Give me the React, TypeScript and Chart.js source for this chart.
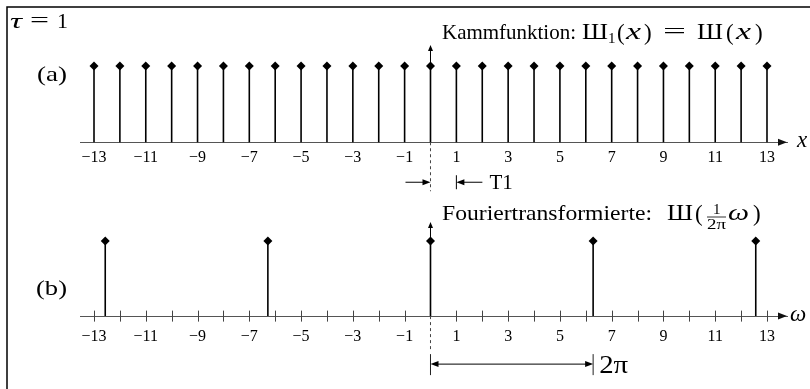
import React, { useEffect, useRef } from 'react';
import { Chart, registerables } from 'chart.js';

Chart.register(...registerables);

// ---- data ----
const tickValues = [-13, -12, -11, -10, -9, -8, -7, -6, -5, -4, -3, -2, -1, 0, 1, 2, 3, 4, 5, 6, 7, 8, 9, 10, 11, 12, 13];
const tickLabels = [-13, -11, -9, -7, -5, -3, -1, 1, 3, 5, 7, 9, 11, 13];
const combPositions = [-13, -12, -11, -10, -9, -8, -7, -6, -5, -4, -3, -2, -1, 0, 1, 2, 3, 4, 5, 6, 7, 8, 9, 10, 11, 12, 13];
const combHeights = [1, 1, 1, 1, 1, 1, 1, 1, 1, 1, 1, 1, 1, 1, 1, 1, 1, 1, 1, 1, 1, 1, 1, 1, 1, 1, 1];
const fourierPositions = [-12.566, -6.283, 0, 6.283, 12.566];
const fourierHeights = [1, 1, 1, 1, 1];
const periodT = 1;
const periodOmega = 6.283;

const SERIF = "'Liberation Serif', 'Times New Roman', serif";
const fnt = (size: number, style = '') => `${style} ${size}px ${SERIF}`.trim();

// draw text at x (left), optionally stretched horizontally to a target width
function put(ctx: CanvasRenderingContext2D, t: string, font: string, x: number, y: number, w?: number) {
  ctx.font = font;
  const m = ctx.measureText(t).width;
  if (!w) {
    ctx.fillText(t, x, y);
    return x + m;
  }
  ctx.save();
  ctx.translate(x, y);
  ctx.scale(w / m, 1);
  ctx.fillText(t, 0, 0);
  ctx.restore();
  return x + w;
}

function arrowHead(ctx: CanvasRenderingContext2D, tx: number, ty: number, dir: 'left' | 'right' | 'up', len: number, half: number) {
  ctx.beginPath();
  if (dir === 'right') {
    ctx.moveTo(tx, ty); ctx.lineTo(tx - len, ty - half); ctx.lineTo(tx - len, ty + half);
  } else if (dir === 'left') {
    ctx.moveTo(tx, ty); ctx.lineTo(tx + len, ty - half); ctx.lineTo(tx + len, ty + half);
  } else {
    ctx.moveTo(tx, ty); ctx.lineTo(tx - half, ty + len); ctx.lineTo(tx + half, ty + len);
  }
  ctx.closePath();
  ctx.fill();
}

function line(ctx: CanvasRenderingContext2D, x1: number, y1: number, x2: number, y2: number) {
  ctx.beginPath(); ctx.moveTo(x1, y1); ctx.lineTo(x2, y2); ctx.stroke();
}

const decor = {
  id: 'decor',
  beforeDraw(chart: any) {
    const ctx: CanvasRenderingContext2D = chart.ctx;
    ctx.save();
    ctx.fillStyle = '#fff';
    ctx.fillRect(0, 0, chart.width, chart.height);
    ctx.strokeStyle = '#000';
    ctx.lineWidth = 1.5;
    ctx.beginPath();
    ctx.moveTo(7, chart.height); ctx.lineTo(7, 7); ctx.lineTo(chart.width, 7);
    ctx.stroke();
    ctx.restore();
  },
  afterDraw(chart: any) {
    const ctx: CanvasRenderingContext2D = chart.ctx;
    const { x: xa, x2: xb, y: ya, y2: yb } = chart.scales;
    const baseA = ya.getPixelForValue(0), baseB = yb.getPixelForValue(0);
    const topA = ya.getPixelForValue(1), topB = yb.getPixelForValue(1);
    const x0 = xa.getPixelForValue(0);
    const x0b = xb.getPixelForValue(0);
    const endA = xa.getPixelForValue(xa.max);
    const endB = xb.getPixelForValue(xb.max);
    ctx.save();
    ctx.fillStyle = '#000';
    ctx.strokeStyle = '#000';

    // vertical axes (solid up, dashed down)
    ctx.lineWidth = 1;
    line(ctx, x0, baseA, x0, topA - 15);
    arrowHead(ctx, x0, topA - 21, 'up', 6, 2.5);
    line(ctx, x0b, baseB, x0b, topB - 13);
    arrowHead(ctx, x0b, topB - 19, 'up', 6, 2.5);
    ctx.strokeStyle = '#444';
    ctx.setLineDash([3, 3]);
    line(ctx, x0, baseA, x0, baseA + 49);
    line(ctx, x0b, baseB, x0b, baseB + 33);
    ctx.setLineDash([]);

    // horizontal axis arrow heads
    ctx.fillStyle = '#111';
    arrowHead(ctx, endA, baseA, 'right', 9, 3.5);
    arrowHead(ctx, endB, baseB, 'right', 9, 3.5);

    // tick marks on panel (b), crossing the axis
    ctx.strokeStyle = '#444';
    ctx.lineWidth = 1;
    for (const t of xb.ticks) {
      if (t.value === 0) continue;
      const px = Math.round(xb.getPixelForValue(t.value)) + 0.5;
      line(ctx, px, baseB - 5.5, px, baseB + 5.5);
    }

    ctx.fillStyle = '#000';
    ctx.textBaseline = 'alphabetic';
    // axis names
    put(ctx, 'x', fnt(23, 'italic'), endA + 10, baseA + 5);
    put(ctx, 'ω', fnt(23, 'italic'), endB + 3, baseB + 5);

    // τ = 1
    put(ctx, 'τ', fnt(22, 'italic'), 10, 28, 12);
    put(ctx, '=', fnt(22), 30, 27, 19);
    put(ctx, '1', fnt(22), 57, 28);

    // (a), (b)
    put(ctx, '(a)', fnt(21), 37, 81, 30);
    put(ctx, '(b)', fnt(21), 36, 295, 31);

    // Title (a)
    const ty = 39;
    put(ctx, 'Kammfunktion:', fnt(21), 442, ty, 134);
    put(ctx, 'Ш', fnt(23), 582, ty, 26);
    put(ctx, '1', fnt(15), 608, ty + 4);
    put(ctx, '(', fnt(23), 617, ty + 1);
    put(ctx, 'x', fnt(23, 'italic'), 626, ty, 15);
    put(ctx, ')', fnt(23), 644, ty + 1);
    put(ctx, '=', fnt(22), 663, ty - 1, 23);
    put(ctx, 'Ш', fnt(23), 697, ty, 26);
    put(ctx, '(', fnt(23), 726, ty + 1);
    put(ctx, 'x', fnt(23, 'italic'), 736, ty, 15);
    put(ctx, ')', fnt(23), 755, ty + 1);

    // Title (b)
    const tb = 220;
    put(ctx, 'Fouriertransformierte:', fnt(21), 442, tb, 210);
    put(ctx, 'Ш', fnt(23), 667, tb, 26);
    put(ctx, '(', fnt(23), 695, tb + 1);
    // fraction 1 / 2π
    const fracL = 707, fracW = 19;
    put(ctx, '1', fnt(15), fracL + 6, 214);
    put(ctx, '2π', fnt(15), fracL, 229, fracW);
    ctx.lineWidth = 0.8;
    ctx.strokeStyle = '#000';
    line(ctx, fracL, 217, fracL + fracW, 217);
    put(ctx, 'ω', fnt(23, 'italic'), 728, tb, 21);
    put(ctx, ')', fnt(23), 753, tb + 1);

    // T1 annotation
    const x1 = xa.getPixelForValue(periodT);
    const yT = baseA + 40;
    ctx.strokeStyle = '#000';
    ctx.lineWidth = 1;
    line(ctx, x0 - 25, yT, x0 - 6, yT);
    arrowHead(ctx, x0, yT, 'right', 8, 3);
    line(ctx, x1, yT - 7, x1, yT + 7);
    line(ctx, x1 + 6, yT, x1 + 26, yT);
    arrowHead(ctx, x1, yT, 'left', 8, 3);
    put(ctx, 'T1', fnt(21), x1 + 33, yT + 7);

    // 2π annotation
    const x2p = xb.getPixelForValue(periodOmega);
    const y2 = baseB + 48;
    ctx.strokeStyle = '#222';
    line(ctx, x0b, y2 - 10, x0b, y2 + 11);
    line(ctx, x2p, y2 - 10, x2p, y2 + 11);
    ctx.strokeStyle = '#000';
    line(ctx, x0b + 6, y2, x2p - 6, y2);
    arrowHead(ctx, x0b, y2, 'left', 8, 3);
    arrowHead(ctx, x2p, y2, 'right', 8, 3);
    put(ctx, '2π', fnt(26), x2p + 6, y2 + 9, 29);

    ctx.restore();
  },
};

const fmt = (v: number) => (v < 0 ? '−' + Math.abs(v) : String(v));

function xAxis(posKey: string, padding: number) {
  return {
    type: 'linear' as const,
    axis: 'x' as const,
    position: { [posKey]: 0 },
    offset: false,
    min: -13.541,
    max: 13.773,
    afterBuildTicks: (s: any) => {
      s.ticks = tickValues.map((v) => ({ value: v }));
    },
    afterFit: (s: any) => {
      s.paddingLeft = 0;
      s.paddingRight = 0;
    },
    ticks: {
      autoSkip: false,
      maxRotation: 0,
      minRotation: 0,
      padding,
      color: '#000',
      font: { family: SERIF, size: 16 },
      callback: (v: any) => (tickLabels.includes(Number(v)) ? fmt(Number(v)) : ''),
    },
    grid: { display: false, drawTicks: false, offset: false },
    border: { display: true, color: '#555', width: 1, dash: [4, 4] },
  };
}

export default function App() {
  const ref = useRef<HTMLCanvasElement>(null);
  useEffect(() => {
    const canvas = ref.current!;
    const combData = combPositions.map((x, i) => ({ x, y: combHeights[i] }));
    const fourierData = fourierPositions.map((x, i) => ({ x, y: fourierHeights[i] }));
    const stem = { backgroundColor: '#000', barThickness: 1.6, grouped: false, borderWidth: 0, inflateAmount: 0 };
    const dot = { pointStyle: 'rectRot', pointRadius: 4.5, pointBackgroundColor: '#000', pointBorderWidth: 0, showLine: false };
    const chart = new Chart(canvas, {
      type: 'bar',
      data: {
        datasets: [
          { type: 'bar', data: combData, xAxisID: 'x', yAxisID: 'y', ...stem } as any,
          { type: 'scatter', data: combData, xAxisID: 'x', yAxisID: 'y', ...dot } as any,
          { type: 'bar', data: fourierData, xAxisID: 'x2', yAxisID: 'y2', ...stem } as any,
          { type: 'scatter', data: fourierData, xAxisID: 'x2', yAxisID: 'y2', ...dot } as any,
        ],
      },
      options: {
        animation: false,
        responsive: false,
        devicePixelRatio: 1,
        events: [],
        layout: { padding: { left: 80, right: 23, top: 0, bottom: 0 } },
        plugins: { legend: { display: false }, tooltip: { enabled: false } },
        scales: {
          x: xAxis('y', 6),
          x2: xAxis('y2', 11),
          y: { type: 'linear', display: false, min: -3.17949, max: 1.80769 },
          y2: { type: 'linear', display: false, min: -0.90909, max: 4.14286 },
        } as any,
      },
      plugins: [decor],
    });
    return () => chart.destroy();
  }, []);
  return (
    <div style={{ position: 'absolute', left: 0, top: 0, width: 810, height: 389, background: '#fff' }}>
      <canvas ref={ref} width={810} height={389} style={{ display: 'block', width: 810, height: 389 }} />
    </div>
  );
}
